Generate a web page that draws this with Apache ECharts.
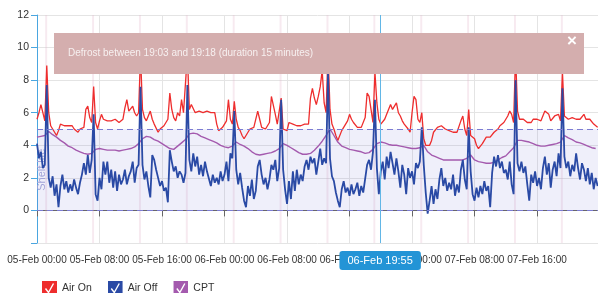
<!DOCTYPE html>
<html>
<head>
<meta charset="utf-8">
<script src="https://cdn.jsdelivr.net/npm/echarts@6/dist/echarts.min.js"></script>
<style>
  html, body { margin: 0; padding: 0; background: #fff; }
  #chart { width: 598px; height: 293px; }
</style>
</head>
<body>
<div id="chart"></div>
<script>
// hours counted from 05-Feb 00:00
var firstDay = 5
var stepAir = 0.25   // Air On / Air Off every 15 min
var stepCpt = 0.5    // CPT every 30 min

var airOn = [
  5.6, 6.0, 6.5, 6.0,  5.5, 8.9, 6.0, 5.2,  5.0, 4.8, 4.6, 4.9,  5.3, 5.4, 5.2, 5.1,
  5.2, 5.1, 5.2, 5.0,  4.9, 4.8, 5.0, 5.1,  5.1, 6.2, 6.4, 5.7,  5.4, 7.6, 5.4, 5.0,
  5.5, 5.9, 5.6, 5.5,  5.5, 5.6, 5.5, 5.5,  5.6, 5.5, 5.4, 5.5,  5.6, 6.3, 6.8, 6.1,
  6.1, 6.4, 6.0, 5.8,  6.0, 9.6, 6.2, 5.7,  5.5, 5.6, 6.1, 5.6,  5.3, 5.2, 4.8, 5.0,
  5.1, 5.2, 5.3, 5.6,  7.2, 6.2, 5.7, 5.5,  6.0, 5.8, 6.8, 6.0,  5.9, 9.6, 6.2, 6.5,
  6.5, 6.0, 6.0, 6.1,  6.1, 6.0, 6.0, 6.1,  6.0, 6.0, 6.1, 6.0,  5.3, 4.9, 5.0, 5.1,
  5.1, 5.5, 6.8, 5.6,  5.3, 6.7, 5.6, 5.1,  4.9, 4.6, 4.4, 4.4,  4.8, 5.0, 5.1, 5.1,
  5.1, 6.1, 5.6, 5.1,  5.1, 5.0, 5.1, 5.4,  7.0, 6.9, 5.9, 5.3,  5.2, 6.9, 5.0, 4.9,
  4.9, 5.4, 5.5, 5.3,  5.3, 5.2, 5.3, 5.2,  5.3, 5.3, 5.2, 5.3,  6.9, 7.5, 6.9, 6.5,
  7.0, 7.6, 8.6, 6.6,  6.0, 9.7, 6.2, 5.3,  5.0, 4.6, 4.3, 4.4,  4.9, 5.1, 5.0, 5.5,
  5.9, 5.6, 5.4, 5.3,  5.1, 5.2, 5.1, 5.1,  5.7, 7.2, 7.0, 6.2,  5.4, 8.5, 6.6, 5.6,
  5.3, 5.4, 5.6, 5.9,  6.0, 6.5, 6.2, 6.1,  6.6, 6.0, 5.8, 5.5,  5.3, 5.2, 5.0, 4.8,
  6.0, 7.0, 6.8, 5.6,  5.4, 6.0, 4.4, 4.0,  3.9, 4.0, 4.3, 4.8,  4.9, 5.1, 5.1, 5.2,
  5.2, 5.0, 4.9, 4.9,  4.9, 4.8, 4.9, 4.8,  4.8, 5.5, 5.8, 5.0,  4.6, 6.2, 4.6, 4.5,
  4.4, 4.0, 3.8, 3.9,  4.1, 4.3, 4.5, 4.6,  4.5, 4.6, 4.8, 4.9,  5.0, 5.2, 5.3, 5.4,
  5.4, 5.8, 6.1, 5.9,  5.4, 9.6, 6.1, 5.6,  5.5, 5.6, 5.5, 5.4,  5.5, 5.4, 5.6, 5.5,
  5.6, 5.5, 5.5, 5.6,  6.1, 6.2, 5.9, 5.5,  5.5, 5.8, 5.9, 5.9,  5.5, 8.5, 5.8, 5.7,
  5.6, 5.6, 5.7, 5.6,  5.6, 5.6, 5.6, 5.7,  5.9, 5.6, 5.6, 5.6,  5.5, 5.3, 5.2, 5.1
]

var airOff = [
  4.1, 3.2, 3.6, 2.6,  2.8, 7.7, 2.0, 1.4,  2.1, 0.9, 1.6, 0.2,  1.5, 2.2, 1.3, 1.8,
  1.1, 1.6, 1.2, 1.9,  1.4, 1.0, 1.7, 2.2,  2.9, 2.2, 3.4, 2.3,  3.1, 5.9, 1.0, 0.6,
  2.0, 1.3, 3.0, 2.2,  3.0, 1.7, 2.5, 1.4,  2.4, 1.2, 2.2, 1.6,  1.9, 2.5, 1.6, 2.1,
  2.4, 3.0, 1.7, 2.6,  2.8, 7.6, 2.8, 1.9,  2.4, 1.5, 0.8, 3.4,  3.1, 2.5, 2.0, 1.5,
  1.8, 1.2, 1.4, 0.5,  3.7, 3.0, 2.4, 2.7,  2.0, 2.4, 2.2, 1.7,  2.3, 7.7, 3.1, 2.4,
  3.5, 2.7, 3.3, 2.2,  2.8, 2.1, 3.0, 2.4,  2.5, 1.5, 2.2, 1.7,  2.0, 1.6, 2.4, 1.8,
  2.2, 3.0, 1.8, 3.5,  3.2, 6.1, 2.5, 1.6,  2.3, 1.4, 0.6, 0.2,  1.5, 0.9, 1.9, 0.7,
  1.2, 2.7, 3.1, 2.2,  1.6, 2.0, 1.3, 1.9,  2.8, 2.5, 3.1, 1.8,  2.6, 6.8, 2.5, 1.3,
  0.4, 1.8, 0.7, 2.4,  1.2, 2.5, 1.6, 2.2,  1.8, 2.7, 3.1, 2.5,  3.3, 2.9, 3.2, 2.2,
  3.0, 3.8, 2.8, 3.2,  2.9, 8.5, 3.2, 2.1,  1.8, 1.1, 0.6, 0.2,  1.3, 1.8, 1.1, 1.4,
  0.9, 1.6, 1.0, 1.3,  1.7, 0.9, 1.5, 1.1,  1.0, 2.8, 3.1, 2.5,  3.6, 6.8, 2.6, 1.0,
  2.4, 3.0, 1.9, 3.3,  2.6, 3.6, 2.9, 2.2,  3.2, 2.4, 1.4, 2.8,  2.2, 1.0, 2.6, 2.0,
  2.4, 1.6, 2.9, 2.6,  3.0, 5.1, 2.8, 1.1, -0.2, 0.6, 1.5, 0.4,  1.3, 0.7, 1.9, 2.6,
  1.5, 2.0, 1.2, 1.7,  1.3, 2.2, 0.9, 1.6,  1.1, 2.5, 3.1, 1.9,  1.3, 5.1, 2.4, 1.0,
  0.6, 1.4, 0.8, 1.5,  1.0, 1.8, 1.2, 1.5,  0.2, 2.3, 3.3, 2.7,  3.4, 2.6, 3.0, 2.3,
  2.5, 1.9, 3.0, 1.6,  1.0, 8.0, 2.9, 2.4,  3.0, 2.3, 2.7, 1.6,  0.6, 2.2, 1.7, 2.4,
  1.5, 2.0, 1.3, 2.6,  3.3, 2.2, 2.9, 1.4,  2.5, 3.0, 2.1, 3.5,  2.6, 7.5, 3.3, 2.6,
  3.0, 2.1, 2.8, 2.4,  3.5, 2.6, 1.9, 2.9,  2.5, 1.8, 2.6, 1.6,  2.3, 1.3, 2.0, 1.5
]

var cpt = [
  4.5, 4.55, 4.6, 4.85, 4.65, 4.5, 4.3, 4.15, 3.95, 3.85, 3.7, 3.6,
  3.5, 3.45, 3.5, 3.75, 3.8, 3.75, 3.7, 3.7, 3.7, 3.65, 3.7, 3.75,
  3.8, 3.9, 4.1, 4.4, 4.55, 4.5, 4.35, 4.25, 4.1, 3.95, 3.8, 3.75,
  3.95, 4.15, 4.35, 4.7, 4.75, 4.7, 4.55, 4.45, 4.35, 4.25, 4.15, 4.0,
  3.9, 3.85, 3.95, 4.2, 4.05, 3.95, 3.8, 3.6, 3.45, 3.4, 3.45, 3.5,
  3.55, 3.65, 3.8, 4.1, 4.0, 3.85, 3.7, 3.55, 3.45, 3.45, 3.5, 3.7,
  3.95, 4.25, 4.6, 5.0, 4.6, 4.2, 3.95, 3.85, 3.75, 3.7, 3.65, 3.6,
  3.5, 3.55, 3.75, 4.1, 4.2, 4.15, 4.05, 4.0, 4.0, 3.95, 3.9, 3.85,
  3.8, 3.8, 3.85, 4.0, 3.6, 3.4, 3.3, 3.2, 3.1, 3.1, 3.1, 3.1,
  3.1, 3.1, 3.2, 3.4, 3.1, 3.0, 2.95, 2.9, 2.9, 2.95, 3.1, 3.25,
  3.35, 3.6, 3.85, 4.3, 4.3, 4.25, 4.2, 4.1, 4.0, 3.95, 3.95, 4.0,
  4.05, 4.1, 4.2, 4.6, 4.45, 4.35, 4.2, 4.15, 4.05, 3.95, 3.85, 3.8
]

// defrost cycles start at 01:03, 07:03, 13:03, 19:03 and last 15 min
var defrostStart = [1.05, 7.05, 13.05, 19.05, 25.05, 31.05, 37.05, 43.05, 49.05, 55.05, 61.05, 67.05]
var defrostLength = 0.25
var shelfLife = [0, 5]
var pointerAt = 43 + 55 / 60
var bannerText = 'Defrost between 19:03 and 19:18 (duration 15 minutes)'

var colors = { on: '#ee2d2d', off: '#2a4aa5', cpt: '#a45aae' }

function pad(n) {
  return n < 10 ? '0' + n : '' + n
}

function hourLabel(h) {
  var whole = Math.floor(h + 1e-6)
  var mm = Math.round((h - whole) * 60)
  return pad(firstDay + Math.floor(whole / 24)) + '-Feb ' + pad(whole % 24) + ':' + pad(mm)
}

function toPoints(values, step) {
  return values.map(function (v, i) { return [i * step, v] })
}

function checkIcon(color) {
  var svg = '<svg xmlns="http://www.w3.org/2000/svg" width="15" height="15">' +
    '<rect width="15" height="15" fill="' + color + '"/>' +
    '<path d="M3.5 7.5 L6.5 11.5 L11.5 2.5" stroke="#fff" stroke-width="1.4" fill="none"/></svg>'
  return 'image://data:image/svg+xml;charset=utf-8,' + encodeURIComponent(svg)
}

var areas = defrostStart.map(function (s) {
  return [{ xAxis: s, itemStyle: { color: 'rgba(228,180,200,0.28)' } }, { xAxis: s + defrostLength }]
})
areas.push([
  { yAxis: shelfLife[0], name: 'Shelf life', itemStyle: { color: 'rgba(110,110,205,0.11)' } },
  { yAxis: shelfLife[1] }
])

var chart = echarts.init(document.getElementById('chart'))
chart.setOption({
  animation: false,
  textStyle: { fontFamily: 'Liberation Sans' },
  grid: { left: 37, right: 0, top: 15, bottom: 50 },
  axisPointer: { triggerOn: 'none' },
  legend: {
    left: 37,
    top: 276,
    itemWidth: 15,
    itemHeight: 15,
    itemGap: 16,
    textStyle: { fontSize: 10.5, color: '#333' },
    data: [
      { name: 'Air On', icon: checkIcon(colors.on) },
      { name: 'Air Off', icon: checkIcon(colors.off) },
      { name: 'CPT', icon: checkIcon(colors.cpt) }
    ]
  },
  xAxis: {
    type: 'value',
    min: 0,
    max: 71.8,
    interval: 8,
    axisLine: { lineStyle: { color: '#666' } },
    axisTick: { length: 6, lineStyle: { color: '#666' } },
    axisLabel: { formatter: hourLabel, color: '#333', fontSize: 10, margin: 12, showMaxLabel: false },
    splitLine: { show: true, lineStyle: { color: '#e4e4e4' } },
    axisPointer: {
      show: true,
      status: 'show',
      value: pointerAt,
      triggerTooltip: false,
      lineStyle: { color: '#62b6e6', width: 1, type: 'solid' },
      label: {
        show: true,
        formatter: function (p) { return hourLabel(p.value) },
        backgroundColor: '#2394d6',
        color: '#fff',
        fontSize: 11,
        padding: [4, 8],
        margin: 8
      }
    }
  },
  yAxis: {
    type: 'value',
    min: -2,
    max: 12,
    interval: 2,
    axisLine: { show: true, lineStyle: { color: '#4aa6e0' } },
    axisTick: { show: true, length: 6, lineStyle: { color: '#4aa6e0' } },
    axisLabel: {
      color: '#333',
      fontSize: 10.5,
      margin: 8,
      formatter: function (v) { return v < 0 ? '' : v }
    },
    splitLine: { lineStyle: { color: '#e4e4e4' } }
  },
  graphic: [
    {
      type: 'rect',
      left: 54, top: 33,
      shape: { width: 530, height: 41 },
      style: { fill: '#d4aeae' },
      z: 100
    },
    {
      type: 'text',
      left: 68, top: 48,
      style: { text: bannerText, fill: '#f7f0f0', fontSize: 10, fontFamily: 'Liberation Sans' },
      z: 101
    },
    {
      type: 'text',
      left: 567, top: 33,
      style: { text: '\u00d7', fill: '#fff', fontSize: 17, fontWeight: 'bold', fontFamily: 'Liberation Sans' },
      z: 101
    }
  ],
  series: [
    {
      type: 'line',
      data: [],
      silent: true,
      z: 1,
      markArea: {
        silent: true,
        label: {
          position: [5, '50%'],
          rotate: 90,
          align: 'center',
          verticalAlign: 'middle',
          color: '#a3a3d8',
          fontSize: 11
        },
        data: areas
      },
      markLine: {
        silent: true,
        symbol: 'none',
        label: { show: false },
        lineStyle: { type: [6, 4], color: '#7c7cd2', width: 1 },
        data: [{ yAxis: shelfLife[1] }, { yAxis: shelfLife[0] }]
      }
    },
    {
      name: 'Air On',
      type: 'line',
      data: toPoints(airOn, stepAir),
      showSymbol: false,
      color: colors.on,
      lineStyle: { color: colors.on, width: 1.3 }
    },
    {
      name: 'CPT',
      type: 'line',
      data: toPoints(cpt, stepCpt),
      showSymbol: false,
      color: colors.cpt,
      lineStyle: { color: colors.cpt, width: 1.4 }
    },
    {
      name: 'Air Off',
      type: 'line',
      data: toPoints(airOff, stepAir),
      showSymbol: false,
      color: colors.off,
      lineStyle: { color: colors.off, width: 1.8 }
    }
  ]
})
</script>
</body>
</html>
